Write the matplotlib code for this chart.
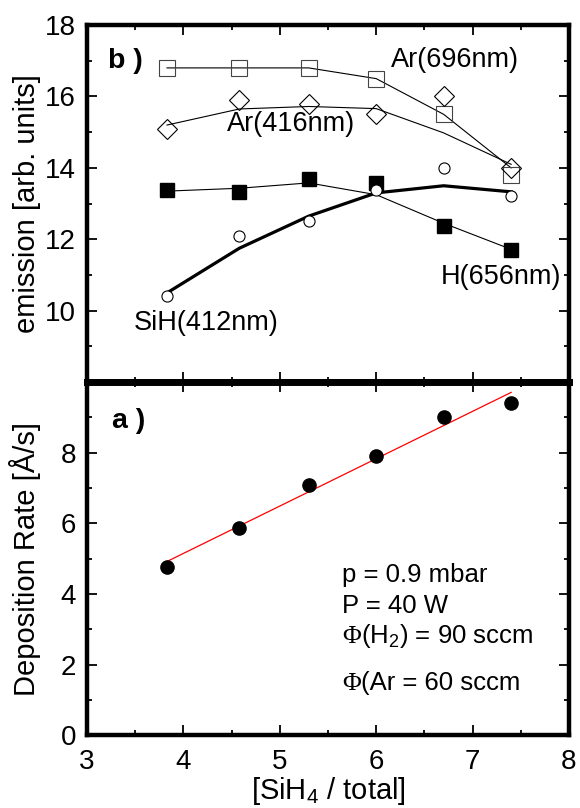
import numpy as np
import matplotlib
matplotlib.use("Agg")
import matplotlib.pyplot as plt
from matplotlib.ticker import MultipleLocator

plt.rcParams["font.family"] = ["Liberation Sans", "DejaVu Sans"]
plt.rcParams["mathtext.fontset"] = "custom"
plt.rcParams["mathtext.rm"] = "Liberation Sans"
plt.rcParams["mathtext.it"] = "Liberation Sans:italic"
plt.rcParams["mathtext.bf"] = "Liberation Sans:bold"

# SiH4 fraction of total flow (%)
silane = [3.83, 4.58, 5.30, 6.00, 6.70, 7.40]

# optical emission lines (measured points and smoothed trend)
ar696 = [16.8, 16.8, 16.8, 16.5, 15.5, 13.8]
ar696_fit = [16.8, 16.8, 16.8, 16.5, 15.5, 14.0]
ar416 = [15.1, 15.9, 15.8, 15.5, 16.0, 14.0]
ar416_fit = [15.2, 15.65, 15.72, 15.66, 14.98, 14.1]
h656 = [13.38, 13.32, 13.7, 13.58, 12.37, 11.7]
h656_fit = [13.35, 13.43, 13.58, 13.25, 12.45, 11.72]
sih412 = [10.4, 12.1, 12.5, 13.38, 14.0, 13.2]
sih412_fit = [10.5, 11.75, 12.65, 13.3, 13.5, 13.33]

# deposition rate (Å/s)
rate = [4.78, 5.88, 7.08, 7.9, 9.0, 9.42]

fig = plt.figure(figsize=(5.8, 8.08), dpi=100)
ax_b = fig.add_axes([0.150, 0.527, 0.831, 0.442])
ax_a = fig.add_axes([0.150, 0.090, 0.831, 0.437], sharex=ax_b)

thin = dict(color="black", lw=0.8)
ax_b.plot(silane, ar696_fit, **thin)
ax_b.plot(silane, ar416_fit, **thin)
ax_b.plot(silane, h656_fit, **thin)
ax_b.plot(silane, sih412_fit, color="black", lw=2.3)
ax_b.plot(silane, ar696, ls="none", marker="s", ms=11.5, mfc="none",
          mec="#444444", mew=0.8)
ax_b.plot(silane, ar416, ls="none", marker="D", ms=10, mfc="none",
          mec="black", mew=0.8)
ax_b.plot(silane, h656, ls="none", marker="s", ms=9.5, mfc="black",
          mec="black")
ax_b.plot(silane, sih412, ls="none", marker="o", ms=8, mfc="white",
          mec="black", mew=0.8)

lbl = dict(fontsize=19.5, va="baseline")
ax_b.text(6.15, 16.82, "Ar(696nm)", **lbl)
ax_b.text(4.45, 15.04, "Ar(416nm)", **lbl)
ax_b.text(6.67, 10.76, "H(656nm)", **lbl)
ax_b.text(3.48, 9.46, "SiH(412nm)", **lbl)
ax_b.text(3.22, 16.99, "b )", fontsize=20.5, fontweight="bold", va="center")

ax_b.set_ylim(8, 18)
ax_b.yaxis.set_minor_locator(MultipleLocator(1))
ax_b.set_yticks([10, 12, 14, 16, 18])
ax_b.set_ylabel("emission [arb. units]", fontsize=21)
ax_b.tick_params(labelbottom=False)

# linear fit to the deposition rate
coef = np.polyfit(silane, rate, 1)
xs = np.array([silane[0], silane[-1]])
ax_a.plot(xs, np.polyval(coef, xs), color="red", lw=0.9)
ax_a.plot(silane, rate, ls="none", marker="o", ms=9.5, color="black")

ax_a.text(3.26, 8.9, "a )", fontsize=20.5, fontweight="bold", va="center")

note = dict(fontsize=18.5, va="baseline")
ax_a.text(5.65, 4.34, "p = 0.9 mbar", **note)
ax_a.text(5.65, 3.46, "P = 40 W", **note)
for y, rest in [(2.61, "(H$_2$) = 90 sccm"), (1.28, "(Ar = 60 sccm")]:
    ax_a.text(5.65, y, "Φ", family="Liberation Serif", **note)
    ax_a.annotate(rest, xy=(5.65, y), xytext=(13, 0),
                  textcoords="offset points", **note)

ax_a.set_xlim(3, 8)
ax_a.set_ylim(0, 10)
ax_a.set_yticks([0, 2, 4, 6, 8])
ax_a.yaxis.set_minor_locator(MultipleLocator(1))
ax_a.xaxis.set_major_locator(MultipleLocator(1))
ax_a.xaxis.set_minor_locator(MultipleLocator(0.5))
ax_a.set_ylabel("Deposition Rate [Å/s]", fontsize=21)
ax_a.set_xlabel("[SiH$_4$ / total]", fontsize=21, labelpad=0)

for ax in (ax_a, ax_b):
    for s in ax.spines.values():
        s.set_linewidth(3.2)
    ax.tick_params(which="both", direction="in", top=True, right=True,
                   labelsize=20, width=1.3)
    ax.tick_params(which="major", length=7, pad=8)
    ax.tick_params(which="minor", length=3.5)
    ax.yaxis.set_label_coords(-0.095, 0.5)
ax_a.tick_params(axis="x", which="major", pad=10)
ax_a.spines["top"].set_linewidth(5)
ax_b.spines["bottom"].set_linewidth(5)

fig.savefig("out.png", dpi=100)
